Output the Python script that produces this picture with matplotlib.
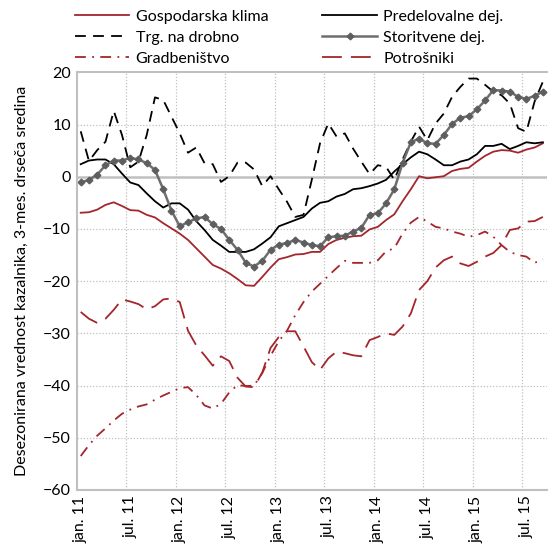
import numpy as np
import matplotlib
matplotlib.use('Agg')
import matplotlib.pyplot as plt

plt.rcParams['font.family'] = ['Lato', 'DejaVu Sans']

# monthly data, jan 2011 - sep 2015
months = np.arange(57)
tick_labels = ['jan. 11', 'jul. 11', 'jan. 12', 'jul. 12', 'jan. 13',
               'jul. 13', 'jan. 14', 'jul. 14', 'jan. 15', 'jul. 15']

gospodarska = [-6.9, -6.8, -6.3, -5.4, -4.9, -5.6, -6.4, -6.5, -7.3, -7.8,
               -8.9, -9.9, -10.9, -12.1, -13.7, -15.3, -16.9, -17.6, -18.5, -19.6,
               -20.8, -20.9, -19.2, -17.4, -15.8, -15.4, -14.9, -14.8, -14.4, -14.4,
               -12.9, -12.1, -11.7, -11.4, -11.3, -10.1, -9.6, -8.3, -7.2, -4.7,
               -2.4, 0.1, -0.3, -0.1, 0.1, 1.1, 1.5, 1.7, 2.9, 4.0,
               4.8, 5.1, 5.0, 4.6, 5.2, 5.6, 6.4]

predelovalne = [2.4, 3.1, 3.3, 3.3, 2.4, 0.6, -1.1, -1.6, -3.2, -4.7,
                -5.9, -5.1, -5.1, -6.3, -8.5, -10.2, -12.1, -13.2, -14.4, -14.4,
                -14.4, -13.9, -12.8, -11.6, -9.5, -8.9, -8.3, -7.7, -6.1, -5.0,
                -4.7, -3.8, -3.3, -2.4, -2.2, -1.8, -1.3, -0.6, 1.0, 2.4,
                3.7, 4.8, 4.3, 3.3, 2.2, 2.2, 2.9, 3.3, 4.3, 5.9,
                5.9, 6.3, 5.3, 5.9, 6.6, 6.4, 6.6]

trgovina = [8.7, 3.0, 5.1, 6.7, 12.6, 8.0, 1.8, 2.9, 8.0, 15.2,
            14.7, 11.5, 8.3, 4.6, 5.6, 2.6, 2.4, -1.0, 0.1, 2.7,
            2.7, 1.4, -1.8, 0.1, -2.4, -4.8, -7.7, -7.3, -0.6, 6.4,
            10.2, 7.7, 8.3, 5.4, 2.9, 0.5, 2.2, 1.9, -0.6, 3.3,
            6.7, 9.6, 7.0, 10.2, 12.1, 15.3, 17.2, 18.8, 18.8, 17.6,
            16.3, 15.6, 14.0, 9.3, 8.6, 14.4, 18.2]

storitvene = [-1.1, -0.6, 0.4, 2.2, 3.1, 3.1, 3.6, 3.3, 2.6, 1.3,
              -2.4, -6.5, -9.5, -8.7, -8.0, -7.7, -9.1, -10.0, -12.1, -14.0,
              -16.5, -17.2, -16.1, -14.0, -13.0, -12.7, -12.1, -12.6, -13.1, -13.3,
              -11.6, -11.4, -11.3, -10.5, -9.8, -7.3, -7.0, -5.1, -2.4, 2.6,
              6.6, 7.3, 6.4, 6.3, 8.0, 10.1, 11.3, 11.6, 12.9, 14.6,
              16.6, 16.5, 16.3, 15.3, 14.9, 15.5, 16.3]

gradbenistvo = [-53.5, -51.4, -49.6, -48.2, -46.7, -45.4, -44.6, -44.0, -43.6, -42.7,
                -41.9, -41.2, -40.5, -40.3, -41.8, -43.8, -44.4, -43.5, -41.3, -39.9,
                -40.1, -40.0, -37.6, -34.3, -31.5, -29.5, -26.5, -24.0, -22.0, -20.5,
                -19.0, -17.5, -16.1, -16.5, -16.5, -16.5, -16.0, -14.3, -13.7, -10.9,
                -8.8, -7.7, -8.6, -9.6, -9.9, -10.5, -10.9, -11.5, -11.2, -10.5,
                -11.5, -13.1, -14.4, -15.0, -15.3, -16.5, -15.8]

potrosniki = [-25.9, -27.2, -28.0, -27.2, -25.5, -23.5, -23.9, -24.4, -25.4, -24.8,
              -23.5, -23.3, -24.0, -29.5, -32.3, -34.2, -36.2, -34.4, -35.3, -38.5,
              -40.2, -40.3, -37.5, -32.8, -30.7, -29.6, -29.6, -32.5, -35.5, -37.0,
              -34.8, -33.5, -33.8, -34.2, -34.4, -31.3, -30.7, -30.0, -30.3, -28.7,
              -26.2, -21.7, -20.0, -17.4, -16.0, -15.3, -16.6, -17.1, -16.3, -15.3,
              -14.6, -13.1, -10.2, -9.9, -8.6, -8.5, -7.7]

red = '#a4262c'
grid_c = '#c0c0c0'

fig = plt.figure(figsize=(5.53, 5.49), dpi=100)
ax = fig.add_axes([0.1385, 0.1075, 0.8506, 0.7608])

l1, = ax.plot(months, gospodarska, color=red, lw=1.3, label='Gospodarska klima')
l2, = ax.plot(months, predelovalne, color='black', lw=1.3, label='Predelovalne dej.')
l3, = ax.plot(months, trgovina, color='black', lw=1.3, dashes=(6, 4),
              label='Trg. na drobno')
l4, = ax.plot(months, storitvene, color='#6e6e6e', lw=1.8, marker='D', ms=3.4,
              mfc='#5e5e5e', mec='#5e5e5e', label='Storitvene dej.')
l5, = ax.plot(months, gradbenistvo, color=red, lw=1.3, dashes=(6, 3.5, 1, 3.5),
              label='Gradbeništvo')
l6, = ax.plot(months, potrosniki, color=red, lw=1.3, dashes=(11, 5),
              label='Potrošniki')

ax.set_xlim(-0.5, 56.5)
ax.set_ylim(-60, 20)
ax.set_yticks(range(-60, 21, 10))
ax.set_xticks(np.arange(0, 57, 6))
ax.set_xticklabels(tick_labels, rotation=90)
ax.tick_params(length=0, labelsize=11.5, pad=4)

# grid
for x in np.arange(5.5, 56, 6):
    ax.axvline(x, color=grid_c, lw=0.9, ls=(0, (1, 1.5)), zorder=0)
for y in range(-50, 20, 10):
    if y == 0:
        ax.axhline(0, color=grid_c, lw=1.8, zorder=0)
    else:
        ax.axhline(y, color=grid_c, lw=0.9, ls=(0, (1, 1.5)), zorder=0)

for side in ['left', 'bottom', 'top']:
    ax.spines[side].set_color(grid_c)
    ax.spines[side].set_linewidth(1.5)
ax.spines['right'].set_visible(False)

ax.set_ylabel('Desezonirana vrednost kazalnika, 3-mes. drseča sredina',
              fontsize=11.5, labelpad=10)

handles = [l1, l3, l5, l2, l4, l6]
fig.legend(handles, [h.get_label() for h in handles],
           ncol=2, loc='upper left', bbox_to_anchor=(0.118, 1.0),
           frameon=False, fontsize=11.5, handlelength=3.4, handletextpad=0.4,
           columnspacing=3.4, labelspacing=0.42, borderaxespad=0.2)

fig.savefig('out.png', dpi=100)
